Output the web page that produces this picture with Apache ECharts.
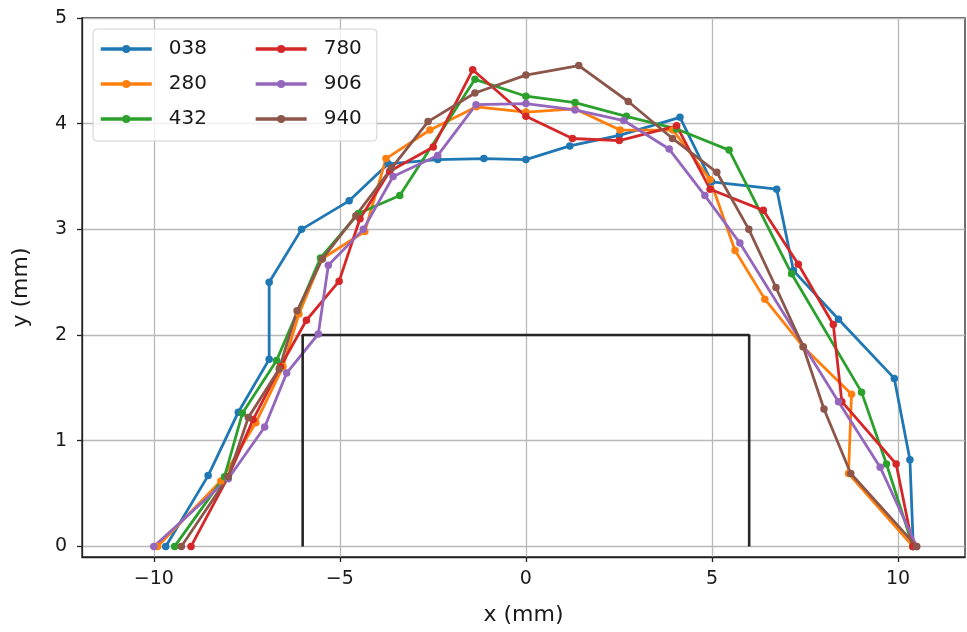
<!DOCTYPE html>
<html>
<head>
<meta charset="utf-8">
<script src="https://cdn.jsdelivr.net/npm/echarts@6/dist/echarts.min.js"></script>
<style>html,body{margin:0;padding:0;background:#fff}#c{width:967px;height:632px}</style>
</head>
<body>
<div id="c"></div>
<script>
var seriesNames = ['038', '280', '432', '780', '906', '940'];
var colors = ['#1f77b4', '#ff7f0e', '#2ca02c', '#d62728', '#9467bd', '#8c564b'];

var x038 = [-9.68, -8.54, -7.73, -6.9, -6.9, -6.03, -4.75, -3.70, -2.37, -1.13, 0, 1.18, 2.51, 4.14, 4.99, 6.74, 7.19, 8.4, 9.9, 10.32, 10.41];
var y038 = [0, 0.67, 1.27, 1.77, 2.5, 3.0, 3.27, 3.62, 3.66, 3.67, 3.66, 3.79, 3.89, 4.06, 3.45, 3.38, 2.61, 2.15, 1.59, 0.82, 0];

var x280 = [-9.9, -8.2, -7.26, -6.53, -6.1, -5.49, -4.33, -3.76, -2.58, -1.33, 0, 1.32, 2.53, 3.95, 4.95, 5.62, 6.42, 7.45, 8.75, 8.67, 10.4];
var y280 = [0, 0.62, 1.17, 1.7, 2.2, 2.72, 2.98, 3.67, 3.94, 4.16, 4.11, 4.14, 3.94, 3.94, 3.47, 2.8, 2.34, 1.89, 1.44, 0.69, 0];

var x432 = [-9.44, -8.1, -7.62, -6.7, -5.52, -4.5, -3.39, -1.37, 0, 1.32, 2.7, 4.05, 5.46, 7.14, 9.02, 9.69, 10.4];
var y432 = [0, 0.66, 1.26, 1.76, 2.73, 3.15, 3.32, 4.42, 4.26, 4.2, 4.07, 3.95, 3.75, 2.58, 1.46, 0.78, 0];

var x780 = [-9.0, -8.0, -7.33, -6.6, -5.9, -5.02, -4.46, -3.66, -2.49, -1.43, 0, 1.25, 2.51, 4.05, 4.95, 6.38, 7.32, 8.26, 8.49, 9.95, 10.4];
var y780 = [0, 0.66, 1.2, 1.7, 2.14, 2.51, 3.1, 3.55, 3.78, 4.51, 4.07, 3.86, 3.84, 3.98, 3.38, 3.18, 2.67, 2.10, 1.37, 0.78, 0];

var x906 = [-10, -8.0, -7.02, -6.43, -5.58, -5.31, -4.37, -3.57, -2.37, -1.34, 0, 1.32, 2.63, 3.85, 4.81, 5.75, 8.4, 9.52, 10.5];
var y906 = [0, 0.64, 1.13, 1.64, 2.01, 2.66, 3.0, 3.5, 3.7, 4.18, 4.19, 4.13, 4.03, 3.76, 3.32, 2.87, 1.37, 0.75, 0];

var x940 = [-9.26, -8.0, -7.46, -6.63, -6.15, -5.47, -4.57, -3.61, -2.63, -1.37, 0, 1.42, 2.75, 3.94, 5.13, 5.99, 6.72, 7.45, 8.01, 8.73, 10.5];
var y940 = [0, 0.66, 1.22, 1.68, 2.23, 2.72, 3.13, 3.58, 4.02, 4.29, 4.46, 4.55, 4.21, 3.86, 3.54, 3.0, 2.45, 1.89, 1.30, 0.69, 0];

var rectX = [-6, -6, 6, 6];
var rectY = [0, 2, 2, 0];

var xTicks = [-10, -5, 0, 5, 10];
var yTicks = [0, 1, 2, 3, 4, 5];

var xs = [x038, x280, x432, x780, x906, x940];
var ys = [y038, y280, y432, y780, y906, y940];

function zip(a, b) { return a.map(function (v, i) { return [v, b[i]]; }); }

var FONT = 'DejaVu Sans';
var TXT = '#1a1a1a';

var series = seriesNames.map(function (n, i) {
  return {
    name: n, type: 'line', data: zip(xs[i], ys[i]),
    symbol: 'circle', symbolSize: 7.5, showSymbol: true,
    lineStyle: { width: 2.8, color: colors[i] },
    itemStyle: { color: colors[i] },
    emphasis: { disabled: true }, animation: false
  };
});
series.push({
  name: 'rect', type: 'line', data: zip(rectX, rectY),
  symbol: 'none', lineStyle: { width: 2.6, color: '#262626' },
  itemStyle: { color: '#262626' }, animation: false, emphasis: { disabled: true }
});

function fmt(v) { return String(v).replace('-', '\u2212'); }

var legendData = seriesNames.map(function (n, i) {
  return { name: n, textStyle: { padding: i < 3 ? [0, 32, 0, 12] : [0, 0, 0, 12] } };
});

var chart = echarts.init(document.getElementById('c'), null, { renderer: 'canvas' });
chart.setOption({
  animation: false,
  color: colors,
  grid: { left: 82, right: 2, top: 18, bottom: 75, show: true, borderColor: '#222', borderWidth: 1.3, containLabel: false },
  legend: {
    data: legendData, orient: 'vertical', left: 93, top: 29, height: 95,
    padding: [10, 15, 12, 6], itemGap: 15, itemWidth: 51, itemHeight: 10,
    borderColor: '#d0d0d0', borderWidth: 1, borderRadius: 4,
    backgroundColor: 'rgba(255,255,255,0.8)', z: 20,
    lineStyle: { width: 3.5 },
    textStyle: { fontFamily: FONT, fontSize: 20, color: TXT, lineHeight: 20 }
  },
  xAxis: {
    type: 'value', min: -11.93, max: 11.8,
    name: 'x (mm)', nameLocation: 'middle', nameGap: 47,
    nameTextStyle: { fontFamily: FONT, fontSize: 22, color: TXT },
    axisLine: { show: true, onZero: false, lineStyle: { color: '#222', width: 1.3 } },
    axisTick: { show: true, length: 5, customValues: xTicks, lineStyle: { color: '#222', width: 1.3 } },
    axisLabel: { customValues: xTicks, margin: 13, fontFamily: FONT, fontSize: 19, color: TXT, formatter: fmt },
    splitLine: { show: true, lineStyle: { color: '#b8b8b8', width: 1.3 } }
  },
  yAxis: {
    type: 'value', min: -0.1, max: 5,
    name: 'y (mm)', nameLocation: 'middle', nameGap: 50,
    nameTextStyle: { fontFamily: FONT, fontSize: 22, color: TXT, padding: [0, 0, 0, 0] },
    axisLine: { show: true, onZero: false, lineStyle: { color: '#222', width: 1.3 } },
    axisTick: { show: true, length: 5, customValues: yTicks, lineStyle: { color: '#222', width: 1.3 } },
    axisLabel: { customValues: yTicks, margin: 15, fontFamily: FONT, fontSize: 19, color: TXT, formatter: fmt },
    splitLine: { show: true, lineStyle: { color: '#b8b8b8', width: 1.3 } }
  },
  series: series
});
</script>
</body>
</html>
